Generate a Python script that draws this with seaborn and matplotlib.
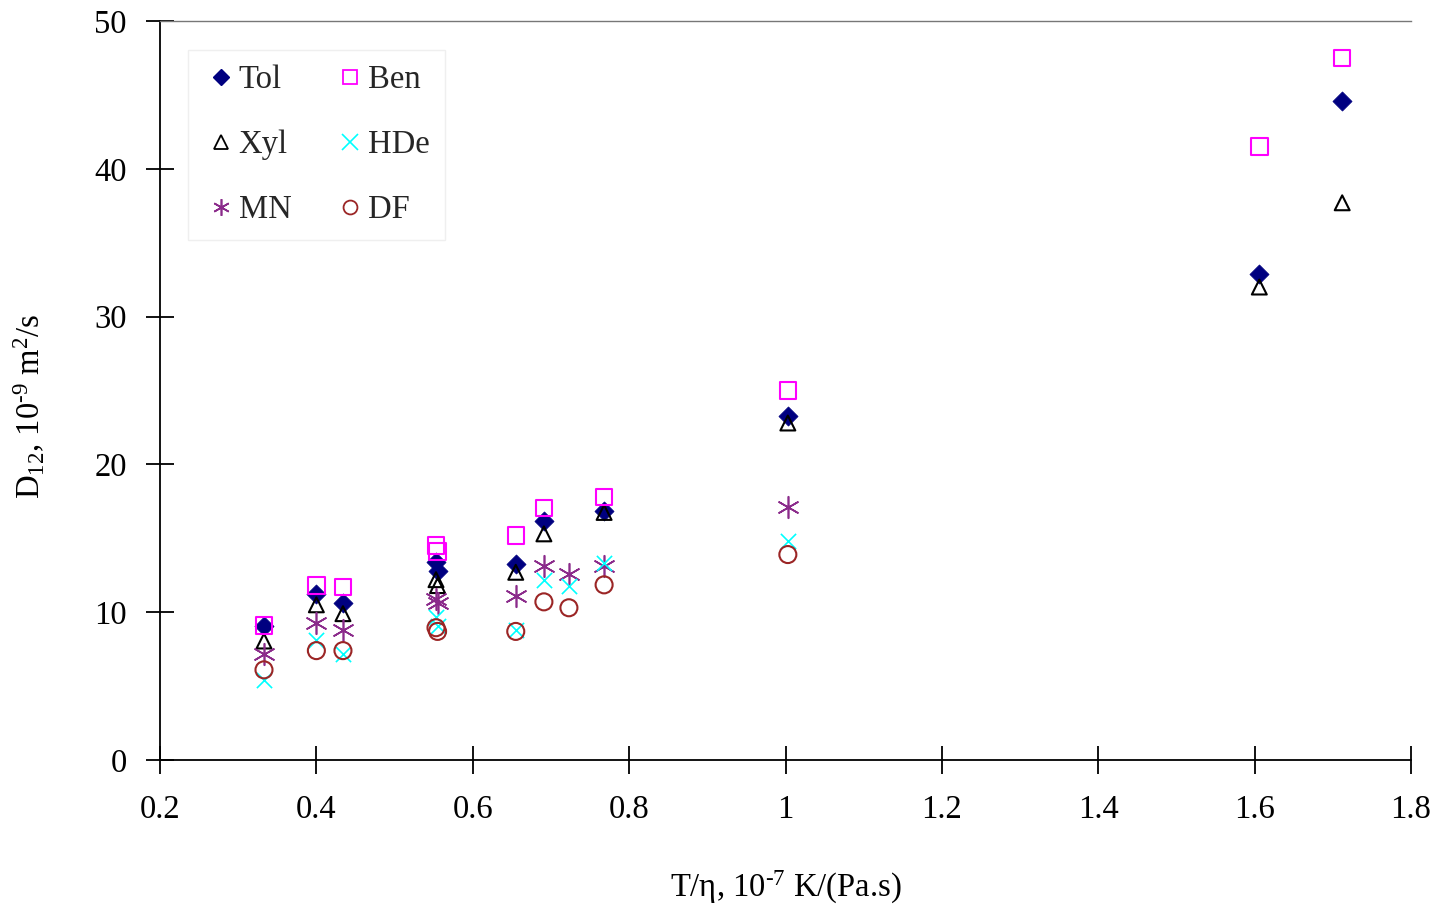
import matplotlib
matplotlib.use("Agg")
import matplotlib.pyplot as plt
import seaborn as sns
import pandas as pd
from matplotlib.lines import Line2D

# T/eta (10^-7 K/(Pa.s)) and D12 (10^-9 m2/s) for each solute
x_aro = [0.333, 0.400, 0.434, 0.553, 0.555, 0.655, 0.691, 0.768, 1.003, 1.606, 1.712]
tol = [9.1, 11.2, 10.6, 13.4, 12.8, 13.25, 16.2, 16.85, 23.3, 32.9, 44.6]
ben = [9.1, 11.8, 11.7, 14.5, 14.1, 15.2, 17.05, 17.8, 25.0, 41.5, 47.5]
xyl = [8.05, 10.5, 9.9, 12.2, 11.8, 12.7, 15.3, 16.75, 22.8, 32.0, 37.7]

x_oth = [0.333, 0.400, 0.434, 0.553, 0.555, 0.655, 0.691, 0.723, 0.768, 1.003]
hde = [5.4, 8.1, 7.2, 9.7, 9.1, 8.8, 12.2, 11.8, 13.3, 14.8]
mn = [7.2, 9.3, 8.8, 10.9, 10.6, 11.1, 13.1, 12.6, 13.1, 17.1]
df_ = [6.1, 7.4, 7.4, 8.95, 8.7, 8.7, 10.7, 10.3, 11.85, 13.9]

x_ticks = [0.2, 0.4, 0.6, 0.8, 1.0, 1.2, 1.4, 1.6, 1.8]
x_tick_labels = ["0.2", "0.4", "0.6", "0.8", "1", "1.2", "1.4", "1.6", "1.8"]
y_ticks = [0, 10, 20, 30, 40, 50]

sns.set_theme(style="white")
plt.rcParams["font.family"] = ["Liberation Serif", "DejaVu Serif"]
plt.rcParams["mathtext.fontset"] = "custom"
plt.rcParams["mathtext.rm"] = "Liberation Serif"
plt.rcParams["mathtext.it"] = "Liberation Serif:italic"

FS = 23.5

fig = plt.figure(figsize=(14.4, 9.05), dpi=100)
ax = fig.add_axes([160 / 1440, 1 - 760 / 905, (1411 - 160) / 1440, (760 - 21) / 905])

asterisk = (6, 2, 0)
series = [
    ("Tol", x_aro, tol, "D", "#000080", True, 95),
    ("Xyl", x_aro, xyl, "^", "#000000", False, 115),
    ("MN", x_oth, mn, asterisk, "#8B2B8B", None, 240),
    ("Ben", x_aro, ben, "s", "#FF00FF", False, 140),
    ("HDe", x_oth, hde, "x", "#00FFFF", None, 120),
    ("DF", x_oth, df_, "o", "#9B2525", False, 150),
]

handles = []
for name, xs, ys, mk, col, filled, size in series:
    d = pd.DataFrame({"x": xs, "y": ys})
    if filled is True:
        kw = dict(color=col, edgecolor=col, linewidth=0.5)
    elif filled is False:
        kw = dict(facecolors="none", edgecolor=col, linewidth=1.5)
    else:
        kw = dict(color=col, linewidth=1.2)
    sns.scatterplot(data=d, x="x", y="y", marker=mk, s=size, ax=ax, zorder=3, **kw)
    if filled is True:
        h = Line2D([], [], ls="none", marker=mk, color=col, markersize=8)
    elif filled is False:
        h = Line2D([], [], ls="none", marker=mk, markerfacecolor="none",
                   markeredgecolor=col, markeredgewidth=1.3, markersize=10)
    else:
        h = Line2D([], [], ls="none", marker=mk, color=col, markeredgewidth=1.2, markersize=12)
    handles.append((h, name))

ax.set_xlim(0.2, 1.8)
ax.set_ylim(0, 50)
ax.set_xticks(x_ticks)
ax.set_xticklabels(x_tick_labels)
ax.set_yticks(y_ticks)

ax.spines["right"].set_visible(False)
ax.spines["top"].set_color("#777777")
ax.spines["top"].set_linewidth(1.0)
for side in ["left", "bottom"]:
    ax.spines[side].set_color("black")
    ax.spines[side].set_linewidth(1.3)

ax.tick_params(axis="both", which="major", direction="inout", length=20, width=1.3,
               color="black", labelsize=FS, labelcolor="black",
               bottom=True, left=True, top=False, right=False)
ax.tick_params(axis="x", pad=15)
ax.tick_params(axis="y", pad=14)
ax.set_xlabel(r"T/η, 10$^{\text{-7}}$ K/(Pa.s)", fontsize=FS, color="black")
ax.set_ylabel(r"D$_{12}$, 10$^{\text{-9}}$ m$^2$/s", fontsize=FS, color="black")
ax.xaxis.set_label_coords(0.5, -0.148)
ax.yaxis.set_label_coords(-0.090, 0.478)

leg = ax.legend([h for h, _ in handles], [n for _, n in handles], ncol=2,
                loc="upper left", bbox_to_anchor=(0.0224, 0.961), frameon=True,
                fancybox=False, edgecolor="#EFEFEF", framealpha=1,
                fontsize=FS, labelspacing=1.06, handlelength=1.1,
                handletextpad=0.0, columnspacing=1.25, borderpad=0.45, borderaxespad=0)
leg.get_frame().set_linewidth(1.0)

fig.savefig("out.png", dpi=100, facecolor="white")
